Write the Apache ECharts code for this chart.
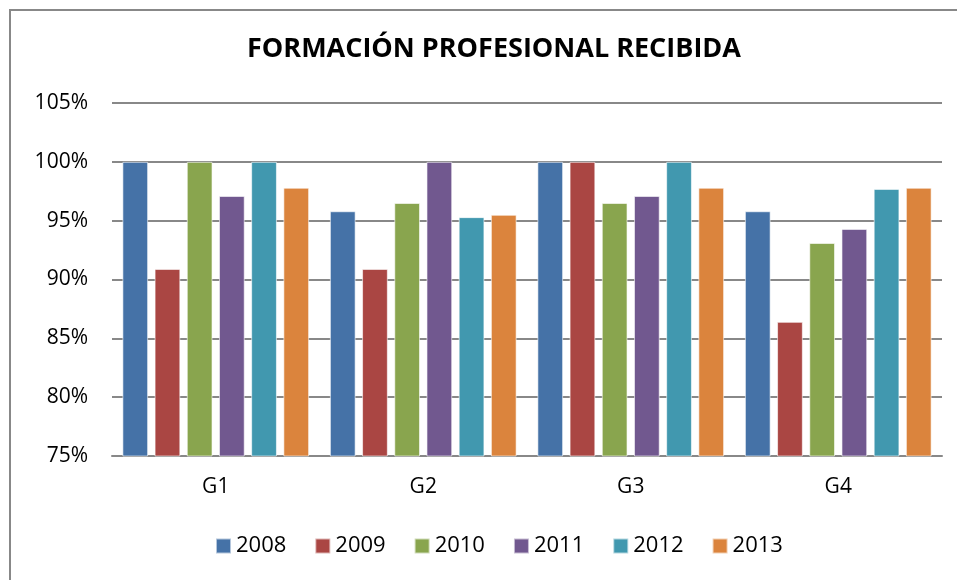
<!DOCTYPE html>
<html>
<head>
<meta charset="utf-8">
<script src="https://cdn.jsdelivr.net/npm/echarts@6/dist/echarts.min.js"></script>
<style>
  html, body { margin: 0; padding: 0; background: #fff; }
  #chart { width: 957px; height: 580px; }
</style>
</head>
<body>
<div id="chart"></div>
<script>
// categorias y series (valores en %)
var groups = ['G1', 'G2', 'G3', 'G4'];
var years = ['2008', '2009', '2010', '2011', '2012', '2013'];
var v2008 = [100, 95.8, 100, 95.8];
var v2009 = [90.9, 90.9, 100, 86.4];
var v2010 = [100, 96.5, 96.5, 93.1];
var v2011 = [97.1, 100, 97.1, 94.3];
var v2012 = [100, 95.3, 100, 97.7];
var v2013 = [97.8, 95.5, 97.8, 97.8];
var seriesValues = [v2008, v2009, v2010, v2011, v2012, v2013];
var colors = ['#4572A7', '#AA4643', '#89A54E', '#71588F', '#4198AF', '#DB843D'];
var yTicks = [75, 80, 85, 90, 95, 100, 105];

var font = '"Open Sans", "Noto Sans", sans-serif';

var chart = echarts.init(document.getElementById('chart'));
chart.setOption({
    animation: false,
    backgroundColor: '#fff',
    color: colors,
    title: {
        text: 'FORMACIÓN PROFESIONAL RECIBIDA',
        left: 242,
        top: 31,
        textStyle: { fontFamily: font, fontSize: 27, fontWeight: 'bold', color: '#000' }
    },
    legend: {
        bottom: 18,
        left: 210,
        itemWidth: 15,
        itemHeight: 15,
        itemGap: 28,
        icon: 'rect',
        textStyle: { fontFamily: font, fontSize: 22, color: '#000' },
        data: years
    },
    grid: { left: 112, right: 15, top: 103, bottom: 124 },
    xAxis: {
        type: 'category',
        data: groups,
        axisTick: { show: false },
        axisLine: { lineStyle: { color: '#888', width: 2 } },
        axisLabel: { fontFamily: font, fontSize: 21, color: '#000', margin: 21 }
    },
    yAxis: {
        type: 'value',
        min: yTicks[0],
        max: yTicks[yTicks.length - 1],
        interval: 5,
        axisLine: { show: false },
        axisTick: { show: false },
        splitLine: { lineStyle: { color: '#888', width: 2 } },
        axisLabel: {
            fontFamily: font, fontSize: 21, color: '#000', margin: 24,
            formatter: function (v) { return v + '%'; }
        }
    },
    series: years.map(function (y, i) {
        return {
            name: y,
            type: 'bar',
            data: seriesValues[i],
            barGap: '25%',
            barCategoryGap: '10%',
            itemStyle: { borderColor: 'rgba(255,255,255,0.6)', borderWidth: 1 }
        };
    }),
    graphic: [{
        type: 'polyline',
        shape: { points: [[10, 580], [10, 10], [957, 10]] },
        style: { stroke: '#888', lineWidth: 2, fill: null }
    }]
});
</script>
</body>
</html>
